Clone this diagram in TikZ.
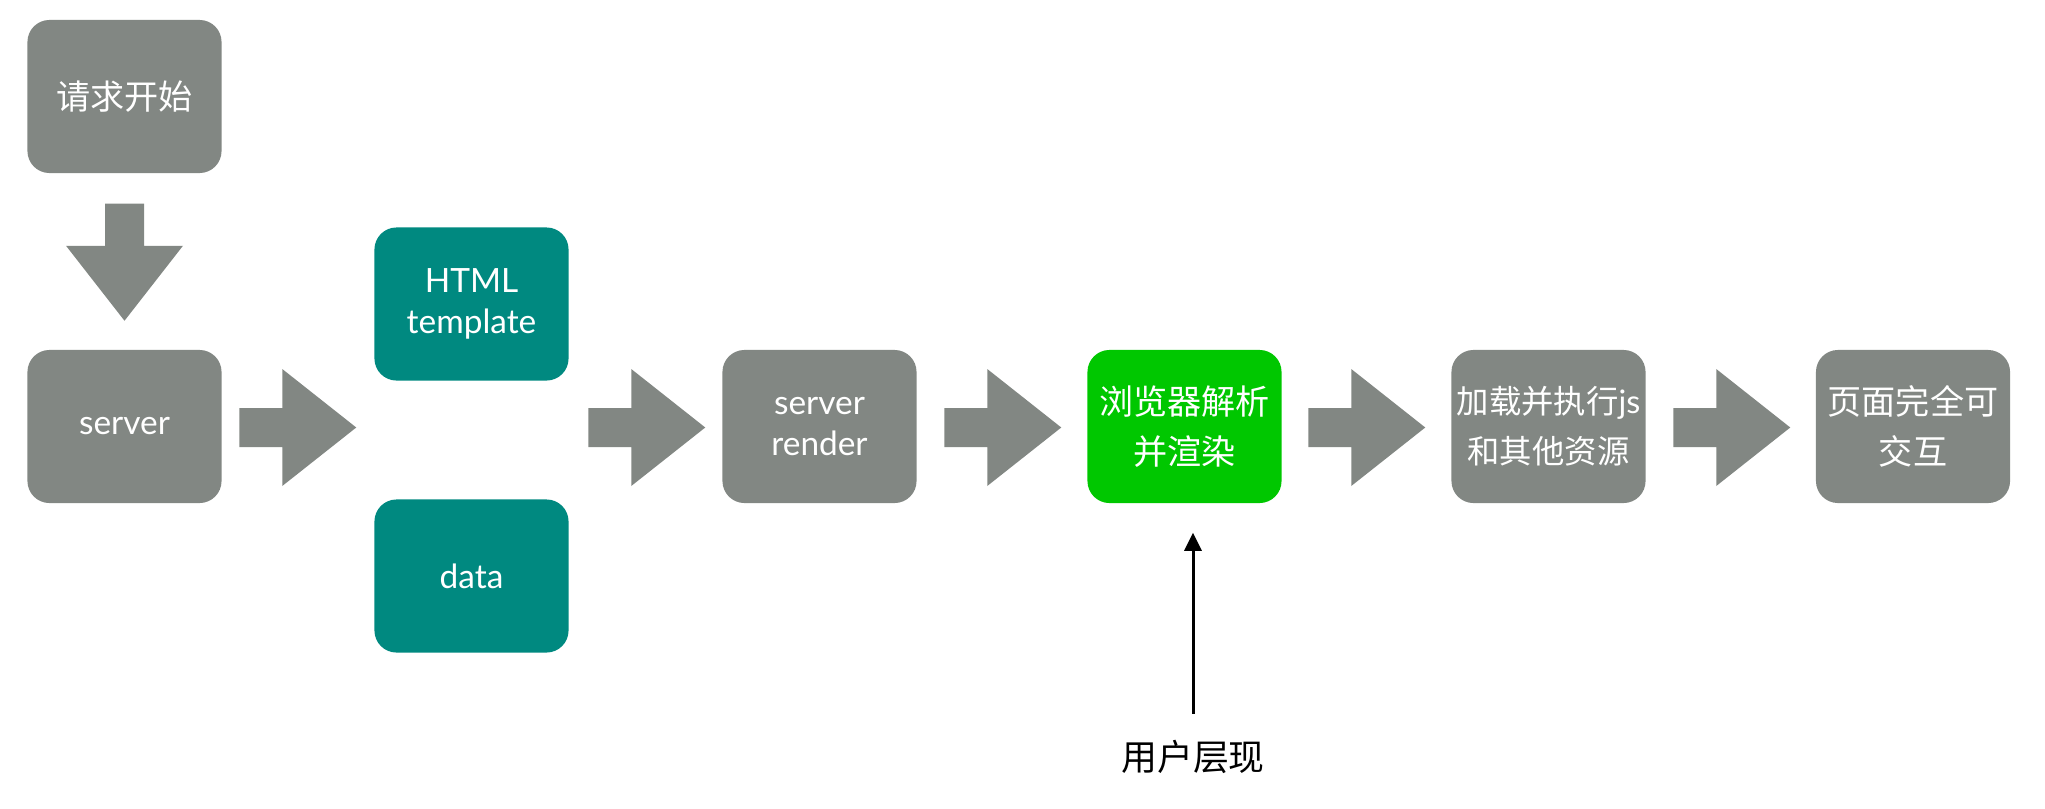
\documentclass[tikz,border=0pt]{standalone}
\usepackage{fontspec}
\setmainfont{Lato}
\newfontfamily\cjk{Noto Sans CJK SC}
\usetikzlibrary{calc,arrows.meta}
\definecolor{boxgray}{RGB}{130,135,131}
\definecolor{boxteal}{RGB}{0,137,128}
\definecolor{boxgreen}{RGB}{0,199,0}
\tikzset{
    stage/.style={
        fill=boxgray, text=white, rounded corners=0.22cm,
        minimum width=1.94cm, minimum height=1.53cm,
        align=center, inner sep=0pt,
        font=\fontsize{9.5}{11.5}\selectfont
    },
    stagecn/.style={
        stage, font=\cjk\fontsize{9.7}{14.2}\selectfont
    },
    lab/.style={
        font=\cjk\fontsize{10.2}{12}\selectfont, inner sep=0pt
    },
    userarrow/.style={
        -{Triangle[length=0.18cm,width=0.17cm]}, line width=0.85pt,
        shorten <=0.26cm, shorten >=0.29cm
    }
}
% fat arrow pointing right, #1 = left end of the shaft (middle)
\newcommand{\flowarrow}[1]{%
    \fill[boxgray] #1 ++(0,-19.5) -- ++(43,0) -- ++(0,-39) -- ++(74,58.5)
        -- ++(-74,58.5) -- ++(0,-39) -- ++(-43,0) -- cycle;}
% fat arrow pointing down, #1 = top end of the shaft (middle)
\newcommand{\downflow}[1]{%
    \fill[boxgray] #1 ++(-19.5,0) -- ++(0,42) -- ++(-39,0) -- ++(58.5,75)
        -- ++(58.5,-75) -- ++(-39,0) -- ++(0,-42) -- cycle;}

\begin{document}
\begin{tikzpicture}[x=0.01cm,y=-0.01cm]

    \useasboundingbox (0,0) rectangle (2045,809);

% --- stages ---
    \node[stagecn] (start) at (124.5,96.5) {请求开始};
    \node[stage] (server) at (124.5,426.5) {server};
    \node[stage, fill=boxteal] (tpl) at (471.5,304) {HTML\\template};
    \node[stage, fill=boxteal] (data) at (471.5,576) {data};
    \node[stage] (render) at (819.5,426.5) {server\\render};
    \node[stagecn, fill=boxgreen] (parse) at (1184.5,426.5) {浏览器解析\\并渲染};
    \node[stagecn, font=\cjk\fontsize{9.2}{14.2}\selectfont] (load) at (1548.5,426.5)
        {加载并执行{\rmfamily js}\\和其他资源};
    \node[stagecn] (done) at (1913,426.5) {页面完全可\\交互};

% --- fat arrows between stages ---
    \downflow{($(start.south)+(0,30)$)}
    \flowarrow{($(server.east)+(17,1)$)}
    \flowarrow{($(tpl.east |- server.east)+(19,1)$)}
    \flowarrow{($(render.east)+(27,1)$)}
    \flowarrow{($(parse.east)+(26,1)$)}
    \flowarrow{($(load.east)+(27,1)$)}

% --- user sees the page ---
    \node[lab] (show) at (1193,757) {用户层现};
    \draw[userarrow] (show.north) -- (show.north |- parse.south);

\end{tikzpicture}
\end{document}
